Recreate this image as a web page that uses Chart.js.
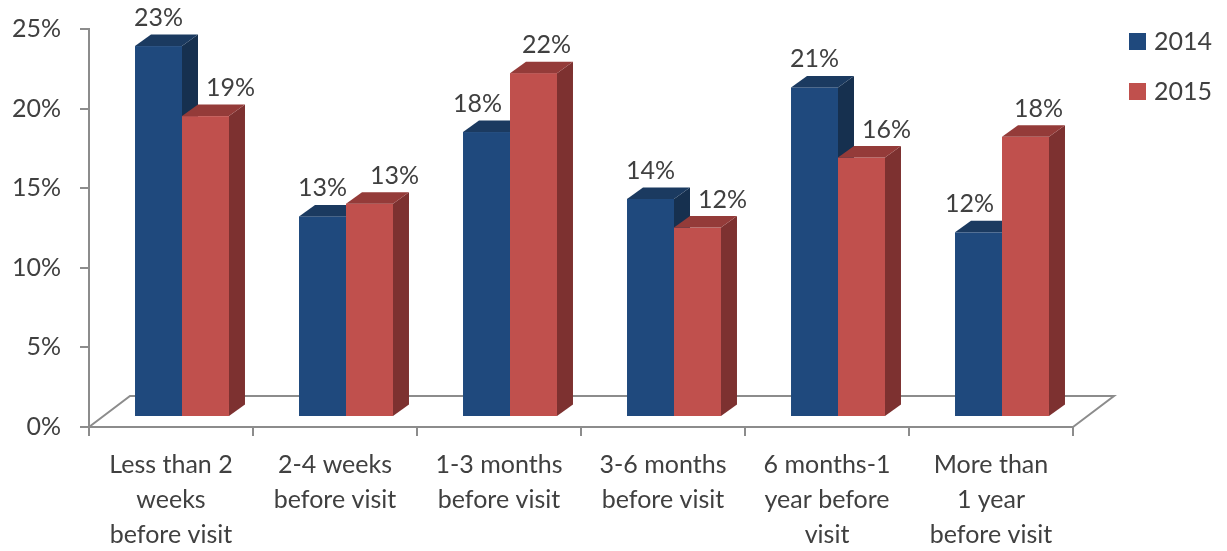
<!DOCTYPE html>
<html>
<head>
<meta charset="utf-8">
<script src="https://cdn.jsdelivr.net/npm/chart.js@4/dist/chart.umd.min.js"></script>
<style>
  html, body { margin: 0; padding: 0; background: #ffffff; }
  canvas { display: block; }
</style>
</head>
<body>
<canvas id="chart" width="1227" height="551"></canvas>
<script>
// Categories (multi-line axis labels)
const categories = [
  ['Less than 2', 'weeks', 'before visit'],
  ['2-4 weeks', 'before visit'],
  ['1-3 months', 'before visit'],
  ['3-6 months', 'before visit'],
  ['6 months-1', 'year before', 'visit'],
  ['More than', '1 year', 'before visit']
];
const seriesNames = ['2014', '2015'];
const values2014 = [23.3, 12.6, 17.9, 13.7, 20.7, 11.6];
const values2015 = [18.9, 13.4, 21.6, 11.9, 16.3, 17.6];
const yTicks = [0, 5, 10, 15, 20, 25];

const TEXT = '#404040';
const AXIS = '#8c8c8c';
const FONT = 'Lato, "Open Sans", sans-serif';
const FONT_SIZE = 25;

// Oblique projection: bar depth, bar offset from the front plane, floor depth
const DX = 16, DY = -11.5;
const SHIFT_X = 11, SHIFT_Y = -10;
const FLOOR_X = 41, FLOOR_Y = -31;

// Labels step aside so they don't sit on the neighbouring bar's side face
function labelShift(dsIndex, i) {
  const tallerRight = values2015[i] - values2014[i] > 2;
  if (dsIndex === 0) return tallerRight ? -9 : 0;
  return tallerRight ? 13 : 25;
}

const box3d = {
  id: 'box3d',
  beforeDatasetsDraw(chart) {
    const { ctx, chartArea: a } = chart;
    ctx.save();
    ctx.strokeStyle = AXIS;
    ctx.lineWidth = 2;
    ctx.beginPath();
    ctx.moveTo(a.left, a.bottom);
    ctx.lineTo(a.left + FLOOR_X, a.bottom + FLOOR_Y);
    ctx.lineTo(a.right + FLOOR_X, a.bottom + FLOOR_Y);
    ctx.lineTo(a.right, a.bottom);
    ctx.stroke();
    ctx.restore();
  },
  // the boxes are drawn below, category by category, so each series overlaps correctly
  beforeDatasetDraw() { return false; },
  afterDatasetsDraw(chart) {
    const ctx = chart.ctx;
    const metas = chart.data.datasets.map((_, k) => chart.getDatasetMeta(k));
    ctx.save();
    ctx.translate(SHIFT_X, SHIFT_Y);
    categories.forEach((_, i) => {
      metas.forEach((meta, k) => {
        const ds = chart.data.datasets[k];
        const bar = meta.data[i];
        const { x, y, base, width } = bar.getProps(['x', 'y', 'base', 'width'], true);
        const l = x - width / 2, r = x + width / 2;
        // front face
        ctx.fillStyle = ds.backgroundColor;
        ctx.fillRect(l, y, width, base - y);
        // right side face
        ctx.fillStyle = ds.sideColor;
        ctx.beginPath();
        ctx.moveTo(r, base);
        ctx.lineTo(r + DX, base + DY);
        ctx.lineTo(r + DX, y + DY);
        ctx.lineTo(r, y);
        ctx.closePath();
        ctx.fill();
        // top face
        ctx.fillStyle = ds.topColor;
        ctx.beginPath();
        ctx.moveTo(l, y);
        ctx.lineTo(l + DX, y + DY);
        ctx.lineTo(r + DX, y + DY);
        ctx.lineTo(r, y);
        ctx.closePath();
        ctx.fill();
      });
    });
    // value labels on top
    ctx.fillStyle = TEXT;
    ctx.font = FONT_SIZE + 'px ' + FONT;
    ctx.textAlign = 'center';
    ctx.textBaseline = 'alphabetic';
    metas.forEach((meta, k) => {
      const ds = chart.data.datasets[k];
      meta.data.forEach((bar, i) => {
        const { x, y } = bar.getProps(['x', 'y'], true);
        ctx.fillText(Math.round(ds.data[i]) + '%', x + labelShift(k, i), y - 20);
      });
    });
    ctx.restore();
  }
};

const legendBox = {
  id: 'legendBox',
  afterDraw(chart) {
    const ctx = chart.ctx;
    const x0 = chart.width - 98;
    ctx.save();
    ctx.font = FONT_SIZE + 'px ' + FONT;
    ctx.textBaseline = 'middle';
    ctx.textAlign = 'left';
    chart.data.datasets.forEach((ds, k) => {
      const cy = 41 + k * 50;
      ctx.fillStyle = ds.backgroundColor;
      ctx.fillRect(x0, cy - 8, 17, 17);
      ctx.fillStyle = TEXT;
      ctx.fillText(ds.label, x0 + 25, cy + 1);
    });
    ctx.restore();
  }
};

new Chart(document.getElementById('chart'), {
  type: 'bar',
  data: {
    labels: categories,
    datasets: [
      { label: seriesNames[0], data: values2014, backgroundColor: '#1f497d',
        sideColor: '#16304f', topColor: '#1b3a60' },
      { label: seriesNames[1], data: values2015, backgroundColor: '#c0504d',
        sideColor: '#7d3130', topColor: '#943b39' }
    ]
  },
  options: {
    responsive: false,
    animation: false,
    devicePixelRatio: 1,
    layout: { padding: { top: 29, left: 0, right: 154, bottom: 0 } },
    datasets: { bar: { categoryPercentage: 0.573, barPercentage: 1, borderWidth: 0 } },
    plugins: { legend: { display: false }, tooltip: { enabled: false } },
    scales: {
      x: {
        grid: { display: true, drawOnChartArea: false, offset: true, tickLength: 9, color: AXIS, lineWidth: 2 },
        border: { display: true, color: AXIS, width: 2 },
        ticks: { color: TEXT, font: { family: FONT, size: FONT_SIZE, lineHeight: 1.4 }, padding: 11, maxRotation: 0, autoSkip: false },
        afterFit(scale) { scale.height = 124; }
      },
      y: {
        min: 0, max: 25,
        afterBuildTicks(scale) { scale.ticks = yTicks.map(v => ({ value: v })); },
        grid: { display: true, drawOnChartArea: false, tickLength: 9, color: AXIS, lineWidth: 2 },
        border: { display: true, color: AXIS, width: 2 },
        ticks: { color: TEXT, font: { family: FONT, size: FONT_SIZE }, padding: 19, callback: v => v + '%' },
        afterFit(scale) {
          scale.width = 89;
          // only half a label is needed above the top tick
          scale.paddingTop = 15;
          scale.paddingBottom = 15;
        }
      }
    }
  },
  plugins: [box3d, legendBox]
});
</script>
</body>
</html>
